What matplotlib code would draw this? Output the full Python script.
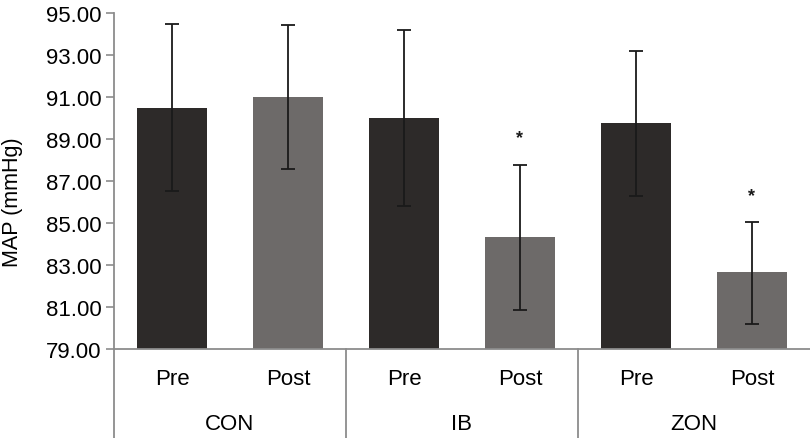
import numpy as np
import matplotlib.pyplot as plt
import matplotlib.transforms as mtransforms

plt.rcParams['font.family'] = ['Liberation Sans', 'DejaVu Sans']

# data
groups = ["CON", "IB", "ZON"]
phases = ["Pre", "Post"]
means = [90.50, 91.00, 90.00, 84.35, 89.75, 82.65]
err_hi = [94.48, 94.45, 94.18, 87.78, 93.19, 85.03]
err_lo = [86.52, 87.55, 85.82, 80.88, 86.28, 80.20]
signif = [False, False, False, True, False, True]

bar_colors = ['#2d2a29', '#6d6a69'] * 3
axis_grey = '#8c8c8c'

fig = plt.figure(figsize=(8.10, 4.39), dpi=100)
ax = fig.add_axes([0.1407, 0.2027, 0.8593, 0.7653])

x = np.arange(len(means))
means_a = np.array(means)
yerr = [means_a - np.array(err_lo), np.array(err_hi) - means_a]
ax.bar(x, means_a - 79, bottom=79, width=0.6, color=bar_colors, zorder=2)
ax.errorbar(x, means_a, yerr=yerr, fmt='none', ecolor='#1a1a1a',
            elinewidth=1.3, capsize=5, capthick=1.3, zorder=3)

for xi, top, s in zip(x, err_hi, signif):
    if s:
        ax.text(xi, top + 1.3, "*", ha='center', va='center', fontsize=13,
                fontweight='bold', color='#1a1a1a')

ax.set_xlim(-0.5, 5.5)
ax.set_ylim(79, 95)
ax.set_yticks(np.arange(79, 96, 2))
ax.set_yticklabels([f"{v:.2f}" for v in np.arange(79, 96, 2)])
ax.tick_params(axis='y', labelsize=16, length=6, width=1.2, color=axis_grey,
               pad=3)
ax.set_xticks(x)
ax.set_xticklabels(phases * 3)
ax.tick_params(axis='x', labelsize=16, length=0, pad=14)
ax.set_ylabel("MAP (mmHg)", fontsize=15.5)
ax.yaxis.set_label_coords(-0.13, 0.44)

for side in ['top', 'right']:
    ax.spines[side].set_visible(False)
for side in ['left', 'bottom']:
    ax.spines[side].set_color(axis_grey)
    ax.spines[side].set_linewidth(1.3)

# multi-level category axis: separators and group labels
trans = mtransforms.blended_transform_factory(ax.transData, ax.transAxes)
for xs in [-0.5, 1.5, 3.5]:
    ax.plot([xs, xs], [0, -0.27], transform=trans, color=axis_grey,
            lw=1.3, clip_on=False)
for i, g in enumerate(groups):
    ax.text(2 * i + 0.5, -0.223, g, transform=trans, ha='center', va='center',
            fontsize=16)

fig.savefig("out.png", dpi=100)
